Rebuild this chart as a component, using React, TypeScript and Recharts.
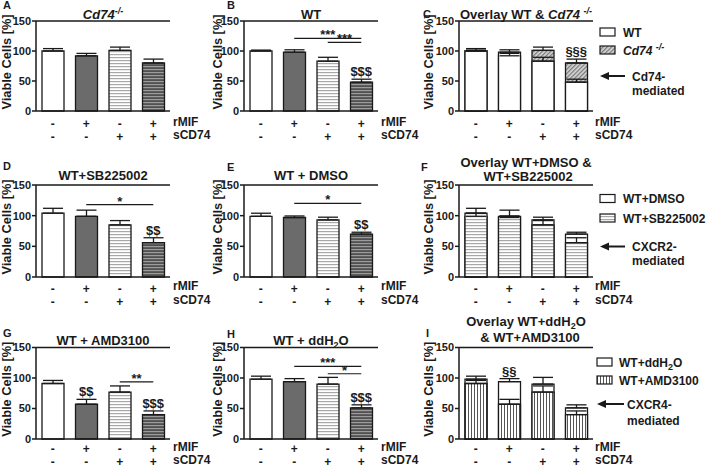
import React from "react";
import { BarChart, Bar, XAxis, YAxis, Cell, ErrorBar, ReferenceLine, ReferenceDot } from "recharts";

const FONT = '"Liberation Sans", Arial, Helvetica, sans-serif';
const INK = "#1a1a1a";

// x categories and the +/- rows under them
const categories = ["ctrl", "rMIF", "sCD74", "rMIF+sCD74"];
const rmifSigns = ["-", "+", "-", "+"];
const scd74Signs = ["-", "-", "+", "+"];
const yTicks = [0, 50, 100, 150];

// viable cells [%], mean and SEM per group
const cd74KoMean = [100, 92, 101, 80];
const cd74KoSem = [4, 4, 5.5, 6.5];
const wtMean = [100, 98, 83, 48];
const wtSem = [1.5, 4, 6.5, 5];
const sbMean = [104, 99, 85, 56];
const sbSem = [8, 10, 7, 8];
const dmsoMean = [99, 97, 93, 70];
const dmsoSem = [5, 2.5, 4.5, 3];
const amdMean = [91, 57, 77, 40];
const amdSem = [5, 8, 10, 6];
const ddh2oMean = [98, 94, 90, 51];
const ddh2oSem = [5, 5, 11, 5];

const plainFills = ["#ffffff", "#6b6b6b", "url(#hLight)", "url(#hDark)"];

type SeriesDef = { mean: number[]; sem: number[]; fills: string[] };
type Sig = { from: number; to: number; y: number; text: string };
type Mark = { idx: number; text: string };

function buildRows(series: SeriesDef[]) {
  return categories.map((cat, i) => {
    const row: any = { cat };
    series.forEach((s, k) => {
      row["v" + k] = s.mean[i];
      row["e" + k] = [0, s.sem[i]];
    });
    return row;
  });
}

const txt = { fontFamily: FONT, fontWeight: "bold" as const, fill: INK };

function SignTick(props: any) {
  const { x, y, payload, d1, d2 } = props;
  const i = categories.indexOf(payload.value);
  return (
    <g>
      <text x={x} y={y + d1} textAnchor="middle" fontSize={12} {...txt}>{rmifSigns[i]}</text>
      <text x={x} y={y + d2} textAnchor="middle" fontSize={12} {...txt}>{scd74Signs[i]}</text>
    </g>
  );
}

function Panel({ x, y, mt, ph, d1, d2, series, sigs = [], marks = [] }: {
  x: number; y: number; mt: number; ph: number; d1: number; d2: number;
  series: SeriesDef[]; sigs?: Sig[]; marks?: Mark[];
}) {
  const rows = buildRows(series);
  return (
    <div style={{ position: "absolute", left: x, top: y }}>
      <BarChart width={172} height={mt + ph + 36} data={rows} margin={{ top: mt, right: 2, bottom: 0, left: 0 }} barSize={22}>
        <XAxis dataKey="cat" xAxisId={0} interval={0} tick={(p: any) => <SignTick {...p} d1={d1} d2={d2} />}
          tickLine={false} tickSize={0} height={36} axisLine={{ stroke: INK, strokeWidth: 1.5 }} />
        {series.length > 1 && <XAxis dataKey="cat" xAxisId={1} hide />}
        <YAxis domain={[0, 150]} ticks={yTicks} interval={0} width={36} tickSize={4} tickMargin={1}
          tick={{ fontSize: 11, fontWeight: "bold", fill: INK, fontFamily: FONT }}
          axisLine={{ stroke: INK, strokeWidth: 1.5 }} tickLine={{ stroke: INK, strokeWidth: 1.5 }} />
        <ReferenceLine y={150} stroke={INK} strokeWidth={1.3} />
        {series.map((s, k) => (
          <Bar key={k} dataKey={"v" + k} xAxisId={k} stroke={INK} strokeWidth={1.3} isAnimationActive={false}>
            {rows.map((_, i) => <Cell key={i} fill={s.fills[i]} />)}
            <ErrorBar dataKey={"e" + k} width={10} stroke={INK} strokeWidth={1.3} direction="y" />
          </Bar>
        ))}
        {sigs.map((s, k) => (
          <ReferenceLine key={"s" + k} segment={[{ x: categories[s.from], y: s.y }, { x: categories[s.to], y: s.y }]}
            stroke={INK} strokeWidth={1.2}
            label={{ value: s.text, position: "top", offset: -1, fontSize: 13, fontWeight: "bold", fill: INK, fontFamily: FONT }} />
        ))}
        {marks.map((m, k) => {
          const top = Math.max(...series.map((s) => s.mean[m.idx] + s.sem[m.idx]));
          return (
            <ReferenceDot key={"m" + k} x={categories[m.idx]} y={top} r={0} fill="none" stroke="none"
              label={{ value: m.text, position: "top", offset: 3, fontSize: 13, fontWeight: "bold", fill: INK, fontFamily: FONT }} />
          );
        })}
      </BarChart>
    </div>
  );
}

const cols = [0, 208, 423];
const rowsY = [
  { top: 0, mt: 21, ph: 90, d1: 15, d2: 28 },
  { top: 150, mt: 35, ph: 92, d1: 13.5, d2: 27 },
  { top: 305, mt: 42.5, ph: 91.5, d1: 12, d2: 25 },
];

function Sup({ children }: { children: React.ReactNode }) {
  return <tspan dy={-5} fontSize={9}>{children}</tspan>;
}

function Arrow({ x1, x2, y }: { x1: number; x2: number; y: number }) {
  return (
    <g>
      <polygon points={`${x1},${y} ${x1 + 9},${y - 4} ${x1 + 9},${y + 4}`} fill={INK} />
      <line x1={x1 + 8} x2={x2} y1={y} y2={y} stroke={INK} strokeWidth={2} />
    </g>
  );
}

export default function App() {
  const yLabelX = [10.5, 221.5, 433];
  const rowLabelX = [173, 381, 595];
  const rowLabelY = [[126, 139], [290, 304], [451, 464]];
  const plotCenter = rowsY.map((r) => r.top + r.mt + r.ph / 2 - 4);
  const P = (ri: number, ci: number) => ({ x: cols[ci], y: rowsY[ri].top, mt: rowsY[ri].mt, ph: rowsY[ri].ph, d1: rowsY[ri].d1, d2: rowsY[ri].d2 });
  return (
    <div style={{ position: "absolute", left: 0, top: 0, width: 709, height: 468, background: "#fff", overflow: "hidden" }}>
      <Panel {...P(0, 0)} series={[{ mean: cd74KoMean, sem: cd74KoSem, fills: plainFills }]} />
      <Panel {...P(0, 1)} series={[{ mean: wtMean, sem: wtSem, fills: plainFills }]}
        sigs={[{ from: 1, to: 3, y: 121, text: "***" }, { from: 2, to: 3, y: 114.5, text: "***" }]}
        marks={[{ idx: 3, text: "$$$" }]} />
      <Panel {...P(0, 2)}
        series={[
          { mean: cd74KoMean, sem: cd74KoSem, fills: categories.map(() => "url(#diag)") },
          { mean: wtMean, sem: wtSem, fills: categories.map(() => "#ffffff") },
        ]}
        marks={[{ idx: 3, text: "§§§" }]} />

      <Panel {...P(1, 0)} series={[{ mean: sbMean, sem: sbSem, fills: plainFills }]}
        sigs={[{ from: 1, to: 3, y: 118, text: "*" }]}
        marks={[{ idx: 3, text: "$$" }]} />
      <Panel {...P(1, 1)} series={[{ mean: dmsoMean, sem: dmsoSem, fills: plainFills }]}
        sigs={[{ from: 1, to: 3, y: 120, text: "*" }]}
        marks={[{ idx: 3, text: "$$" }]} />
      <Panel {...P(1, 2)}
        series={[
          { mean: dmsoMean, sem: dmsoSem, fills: categories.map(() => "#ffffff") },
          { mean: sbMean, sem: sbSem, fills: categories.map(() => "url(#hLight)") },
        ]} />

      <Panel {...P(2, 0)} series={[{ mean: amdMean, sem: amdSem, fills: plainFills }]}
        sigs={[{ from: 2, to: 3, y: 93.6, text: "**" }]}
        marks={[{ idx: 1, text: "$$" }, { idx: 3, text: "$$$" }]} />
      <Panel {...P(2, 1)} series={[{ mean: ddh2oMean, sem: ddh2oSem, fills: plainFills }]}
        sigs={[{ from: 1, to: 3, y: 119, text: "***" }, { from: 2, to: 3, y: 107, text: "*" }]}
        marks={[{ idx: 3, text: "$$$" }]} />
      <Panel {...P(2, 2)}
        series={[
          { mean: ddh2oMean, sem: ddh2oSem, fills: categories.map(() => "#ffffff") },
          { mean: amdMean, sem: amdSem, fills: categories.map(() => "url(#vert)") },
        ]}
        marks={[{ idx: 1, text: "§§" }]} />

      <svg width={709} height={468} style={{ position: "absolute", left: 0, top: 0, pointerEvents: "none" }}>
        <defs>
          <pattern id="hLight" width="4" height="3" patternUnits="userSpaceOnUse">
            <rect width="4" height="3" fill="#ffffff" />
            <rect width="4" height="1.2" fill="#a8a8a8" />
          </pattern>
          <pattern id="hDark" width="4" height="3" patternUnits="userSpaceOnUse">
            <rect width="4" height="3" fill="#505050" />
            <rect width="4" height="1.2" fill="#9c9c9c" />
          </pattern>
          <pattern id="diag" width="3" height="3" patternUnits="userSpaceOnUse" patternTransform="rotate(45)">
            <rect width="3" height="3" fill="#d8d8d8" />
            <rect width="1.3" height="3" fill="#7a7a7a" />
          </pattern>
          <pattern id="vert" width="3" height="4" patternUnits="userSpaceOnUse">
            <rect width="3" height="4" fill="#ffffff" />
            <rect width="1" height="4" fill="#555555" />
          </pattern>
        </defs>

        {/* panel letters */}
        <g fontSize={11} {...txt}>
          <text x={3} y={9}>A</text>
          <text x={227} y={9}>B</text>
          <text x={423} y={18}>C</text>
          <text x={3} y={170}>D</text>
          <text x={227} y={171}>E</text>
          <text x={421} y={171}>F</text>
          <text x={3} y={337}>G</text>
          <text x={227} y={338}>H</text>
          <text x={426} y={337}>I</text>
        </g>

        {/* y axis titles */}
        {rowsY.map((r, ri) =>
          yLabelX.map((lx, ci) => (
            <text key={ri + "-" + ci} x={lx} y={plotCenter[ri]} transform={`rotate(-90 ${lx} ${plotCenter[ri]})`}
              textAnchor="middle" fontSize={12.8} {...txt}>Viable Cells [%]</text>
          ))
        )}

        {/* row labels */}
        {rowLabelY.map((ys, ri) =>
          rowLabelX.map((lx, ci) => (
            <g key={ri + "-" + ci} fontSize={12} {...txt}>
              <text x={lx} y={ys[0]}>rMIF</text>
              <text x={lx} y={ys[1]}>sCD74</text>
            </g>
          ))
        )}

        {/* titles */}
        <g fontSize={13} {...txt} textAnchor="middle">
          <text x={103} y={19}><tspan fontStyle="italic">Cd74</tspan><Sup><tspan fontStyle="italic">-/-</tspan></Sup></text>
          <text x={311} y={19}>WT</text>
          <text x={526} y={19}>Overlay WT &amp; <tspan fontStyle="italic">Cd74</tspan> <Sup><tspan fontStyle="italic">-/-</tspan></Sup></text>
          <text x={103} y={180}>WT+SB225002</text>
          <text x={311} y={180}>WT + DMSO</text>
          <text x={526} y={167}>Overlay WT+DMSO &amp;</text>
          <text x={528} y={181}>WT+SB225002</text>
          <text x={103} y={345}>WT + AMD3100</text>
          <text x={311} y={345}>WT + ddH<tspan dy={3} fontSize={9}>2</tspan><tspan dy={-3}>O</tspan></text>
          <text x={526} y={326}>Overlay WT+ddH<tspan dy={3} fontSize={9}>2</tspan><tspan dy={-3}>O</tspan></text>
          <text x={530} y={342}>&amp; WT+AMD3100</text>
        </g>

        {/* legends */}
        <g fontSize={12} {...txt}>
          <rect x={600} y={28} width={15} height={8} fill="#fff" stroke={INK} strokeWidth={1.2} />
          <text x={623} y={36.5}>WT</text>
          <rect x={600} y={46} width={15} height={8} fill="url(#diag)" stroke={INK} strokeWidth={1.2} />
          <text x={623} y={54.5}><tspan fontStyle="italic">Cd74</tspan> <Sup><tspan fontStyle="italic">-/-</tspan></Sup></text>
          <Arrow x1={600} x2={625} y={76} />
          <text x={632} y={80.5}>Cd74-</text>
          <text x={632} y={94.5}>mediated</text>

          <rect x={600} y={194.5} width={15} height={8} fill="#fff" stroke={INK} strokeWidth={1.2} />
          <text x={623} y={203}>WT+DMSO</text>
          <rect x={600} y={214} width={15} height={8} fill="url(#hLight)" stroke={INK} strokeWidth={1.2} />
          <text x={623} y={222.5}>WT+SB225002</text>
          <Arrow x1={600} x2={625} y={246.5} />
          <text x={632} y={251}>CXCR2-</text>
          <text x={632} y={265}>mediated</text>

          <rect x={597} y={358} width={15} height={8} fill="#fff" stroke={INK} strokeWidth={1.2} />
          <text x={619} y={366.5}>WT+ddH<tspan dy={3} fontSize={9}>2</tspan><tspan dy={-3}>O</tspan></text>
          <rect x={597} y={376} width={15} height={8} fill="url(#vert)" stroke={INK} strokeWidth={1.2} />
          <text x={619} y={384.5}>WT+AMD3100</text>
          <Arrow x1={597} x2={624} y={404} />
          <text x={627} y={408.5}>CXCR4-</text>
          <text x={627} y={424.5}>mediated</text>
        </g>
      </svg>
    </div>
  );
}
